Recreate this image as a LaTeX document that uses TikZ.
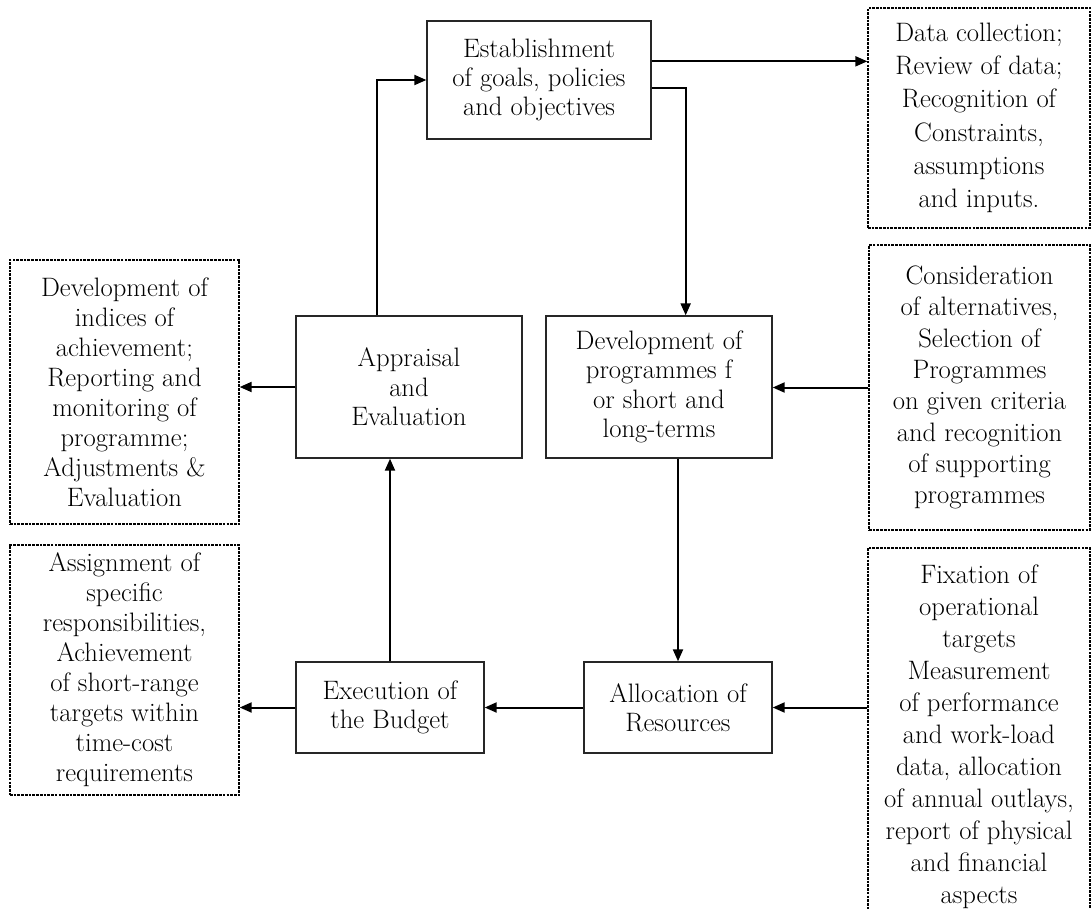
\documentclass[tikz,border=0pt]{standalone}
\usepackage{tikz}
\usepackage{xcolor}
\usetikzlibrary{arrows.meta}

\begin{document}
\begin{tikzpicture}[x=0.75pt,y=0.75pt,yscale=-1,xscale=1,
  box/.style={draw=black!85, line width=1pt, align=center, inner sep=2pt, font=\fontsize{20}{22}\selectfont},
  note/.style={draw=black, line width=1pt, dash pattern=on 2pt off 0.8pt, align=center, inner sep=2pt, font=\fontsize{20}{24}\selectfont},
  arr/.style={line width=1.5pt, -{Triangle[length=9pt,width=7.5pt]}}]
%set diagram left start at 0, and has height of 909
\path[use as bounding box, clip] (0,0) rectangle (1091,909);

%Shape: Rectangle (main cycle)
\node[box, minimum width=168pt, minimum height=88.5pt] (goals) at (539,80) {Establishment\\of goals, policies\\and objectives};
\node[box, minimum width=169.5pt, minimum height=106.5pt] (appraisal) at (409,387) {Appraisal\\and\\Evaluation};
\node[box, minimum width=169.5pt, minimum height=106.5pt] (programmes) at (659,387) {Development of\\programmes f\\or short and\\long-terms};
\node[box, minimum width=141pt, minimum height=68.25pt] (execution) at (390,707.5) {Execution of\\the Budget};
\node[box, minimum width=141pt, minimum height=68.25pt] (allocation) at (678,707.5) {Allocation of\\Resources};

%Shape: Rectangle (dotted notes)
\node[note, minimum width=166.5pt, minimum height=165pt, font=\fontsize{20}{25}\selectfont] (datanote) at (979,118) {Data collection;\\Review of data;\\Recognition of\\Constraints,\\assumptions\\and inputs.};
\node[note, minimum width=165.75pt, minimum height=213.75pt, font=\fontsize{20}{23.5}\selectfont] (altnote) at (979.5,387.5) {Consideration\\of alternatives,\\Selection of\\Programmes\\on given criteria\\and recognition\\of supporting\\programmes};
\node[note, minimum width=166.5pt, minimum height=282.75pt] (targetnote) at (979,736.5) {Fixation of\\operational\\targets\\Measurement\\of performance\\and work-load\\data, allocation\\of annual outlays,\\report of physical\\and financial\\aspects};
\node[note, minimum width=171.75pt, minimum height=198pt, font=\fontsize{20}{22.5}\selectfont] (indicesnote) at (124.5,392) {Development of\\indices of\\achievement;\\Reporting and\\monitoring of\\programme;\\Adjustments \&\\Evaluation};
\node[note, minimum width=171.75pt, minimum height=187.5pt, font=\fontsize{20}{22.5}\selectfont] (assignnote) at (124.5,670) {Assignment of\\specific\\responsibilities,\\Achievement\\of short-range\\targets within\\time-cost\\requirements};

%Straight Lines (cycle)
\draw[arr] ([xshift=-24pt]appraisal.north) |- (goals.west);
\draw[arr] ([yshift=6pt]goals.east) -| ([xshift=20pt]programmes.north);
\draw[arr] (allocation.north |- programmes.south) -- (allocation.north);
\draw[arr] (allocation.west) -- (execution.east);
\draw[arr] (execution.north) -- (execution.north |- appraisal.south);

%Straight Lines (to and from notes)
\draw[arr] ([yshift=-14pt]goals.east) -- ([yshift=-14pt]goals.east -| datanote.west);
\draw[arr] (altnote.west) -- (altnote.west -| programmes.east);
\draw[arr] (allocation.east -| targetnote.west) -- (allocation.east);
\draw[arr] (appraisal.west) -- (appraisal.west -| indicesnote.east);
\draw[arr] (execution.west) -- (execution.west -| assignnote.east);

\end{tikzpicture}
\end{document}
